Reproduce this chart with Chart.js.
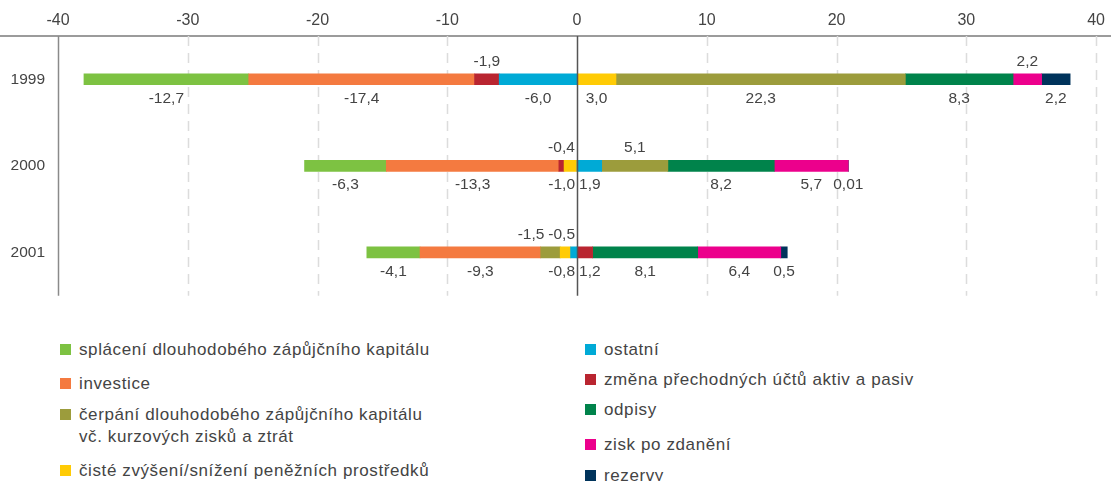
<!DOCTYPE html>
<html>
<head>
<meta charset="utf-8">
<script src="https://cdn.jsdelivr.net/npm/chart.js@4/dist/chart.umd.min.js"></script>
<style>
  body { margin: 0; background: #fff; width: 1111px; height: 481px; overflow: hidden; position: relative; font-family: "Liberation Sans", Arial, sans-serif; color: #444; }
  #wrap { position: absolute; left: 0; top: 0; width: 1111px; height: 318px; }
  .leg { position: absolute; font-size: 17px; letter-spacing: 0.6px; line-height: 22px; color: #444; white-space: nowrap; }
  .leg i { position: absolute; left: -19px; top: 5px; width: 11px; height: 11px; }
</style>
</head>
<body>
<div id="wrap"><canvas id="myChart"></canvas></div>
<div id="legend"></div>
<script>
// years on the category axis
const years = ['1999', '2000', '2001'];
const xTicks = [-40, -30, -20, -10, 0, 10, 20, 30, 40];

// values in bn (one entry per year)
const ostatni   = [-6.0, 1.9, -0.5];
const ciste     = [3.0, -1.0, -0.8];
const zmena     = [-1.9, -0.4, 1.2];
const cerpani   = [22.3, 5.1, -1.5];
const investice = [-17.4, -13.3, -9.3];
const splaceni  = [-12.7, -6.3, -4.1];
const odpisy    = [8.3, 8.2, 8.1];
const zisk      = [2.2, 5.7, 6.4];
const rezervy   = [2.2, 0.01, 0.5];

const COLORS = {
  splaceni: '#7dc242',
  investice: '#f47a40',
  cerpani: '#9c9c3c',
  ciste: '#ffcb05',
  ostatni: '#00aad6',
  zmena: '#b92530',
  odpisy: '#00834b',
  zisk: '#ec008c',
  rezervy: '#00335b'
};

const FONT = '"Liberation Sans", Arial, sans-serif';

// dataset order = stacking order from zero outwards
const data = {
  labels: years,
  datasets: [
    { key: 'ostatni', label: 'ostatní', data: ostatni, backgroundColor: COLORS.ostatni },
    { key: 'ciste', label: 'čisté zvýšení/snížení peněžních prostředků', data: ciste, backgroundColor: COLORS.ciste },
    { key: 'zmena', label: 'změna přechodných účtů aktiv a pasiv', data: zmena, backgroundColor: COLORS.zmena },
    { key: 'cerpani', label: 'čerpání dlouhodobého zápůjčního kapitálu\nvč. kurzových zisků a ztrát', data: cerpani, backgroundColor: COLORS.cerpani },
    { key: 'investice', label: 'investice', data: investice, backgroundColor: COLORS.investice },
    { key: 'splaceni', label: 'splácení dlouhodobého zápůjčního kapitálu', data: splaceni, backgroundColor: COLORS.splaceni },
    { key: 'odpisy', label: 'odpisy', data: odpisy, backgroundColor: COLORS.odpisy },
    { key: 'zisk', label: 'zisk po zdanění', data: zisk, backgroundColor: COLORS.zisk },
    { key: 'rezervy', label: 'rezervy', data: rezervy, backgroundColor: COLORS.rezervy }
  ]
};

// which value labels sit above the bar (rest go below)
const above = { zmena: [0, 1], zisk: [0], cerpani: [1, 2], ostatni: [2] };

function fmt(v) {
  let d = Math.abs(v) < 0.1 ? 2 : 1;
  return v.toFixed(d).replace('.', ',');
}

const gridLines = {
  id: 'gridLines',
  beforeDatasetsDraw(chart) {
    const ctx = chart.ctx, a = chart.chartArea, sx = chart.scales.x;
    ctx.save();
    // top rule across the whole width
    ctx.strokeStyle = '#7a7a7a';
    ctx.lineWidth = 1.5;
    ctx.beginPath();
    ctx.moveTo(0, a.top); ctx.lineTo(chart.width, a.top);
    ctx.stroke();
    xTicks.forEach(v => {
      if (v === 0) return;
      const x = Math.round(sx.getPixelForValue(v)) + 0.5;
      ctx.beginPath();
      if (v === -40) {
        ctx.setLineDash([]);
        ctx.strokeStyle = '#8a8a8a';
        ctx.lineWidth = 1.5;
      } else {
        ctx.setLineDash([10, 7]);
        ctx.strokeStyle = '#dcdcdc';
        ctx.lineWidth = 1.5;
      }
      ctx.moveTo(x, a.top); ctx.lineTo(x, a.bottom);
      ctx.stroke();
    });
    ctx.restore();
  },
  afterDatasetsDraw(chart) {
    const ctx = chart.ctx, a = chart.chartArea, sx = chart.scales.x;
    const zx = Math.round(sx.getPixelForValue(0)) + 0.5;
    ctx.save();
    ctx.strokeStyle = '#555';
    ctx.lineWidth = 1.5;
    ctx.beginPath();
    ctx.moveTo(zx, a.top); ctx.lineTo(zx, a.bottom);
    ctx.stroke();

    // value labels
    ctx.font = '15.5px ' + FONT;
    ctx.fillStyle = '#444';
    ctx.textAlign = 'center';
    ctx.textBaseline = 'middle';
    const zero = sx.getPixelForValue(0);
    years.forEach((yr, j) => {
      const groups = {};
      chart.data.datasets.forEach((ds, i) => {
        const v = ds.data[j];
        const bar = chart.getDatasetMeta(i).data[j];
        const up = (above[ds.key] || []).includes(j);
        const t = fmt(v);
        const w = ctx.measureText(t).width;
        const g = (up ? 'u' : 'd') + (v < 0 ? 'n' : 'p');
        (groups[g] = groups[g] || []).push({ t, w, cx: (bar.x + bar.base) / 2, y: bar.y + (up ? -18 : 19), neg: v < 0 });
      });
      Object.values(groups).forEach(list => {
        // push apart from zero outwards
        let edge = null;
        list.forEach(l => {
          if (l.neg) {
            let lim = edge === null ? zero - 2 : edge - 4;
            if (l.cx + l.w / 2 > lim) l.cx = lim - l.w / 2;
            edge = l.cx - l.w / 2;
          } else {
            let lim = edge === null ? zero + 2 : edge + 4;
            if (l.cx - l.w / 2 < lim) l.cx = lim + l.w / 2;
            edge = l.cx + l.w / 2;
          }
          ctx.fillText(l.t, l.cx, l.y);
        });
      });
    });
    ctx.restore();
  }
};

const config = {
  type: 'bar',
  data: data,
  options: {
    indexAxis: 'y',
    responsive: true,
    maintainAspectRatio: false,
    animation: false,
    layout: { padding: { top: 0, right: 11, bottom: 5, left: 0 } },
    datasets: { bar: { barThickness: 11 } },
    scales: {
      x: {
        position: 'top',
        stacked: true,
        min: -40, max: 40,
        afterBuildTicks: s => { s.ticks = xTicks.map(v => ({ value: v })); },
        afterFit: s => { s.height = 36; },
        grid: { display: false, drawTicks: false },
        border: { display: false },
        ticks: {
          padding: 6,
          color: '#444',
          font: { size: 16, family: FONT },
          callback: v => String(v)
        }
      },
      y: {
        stacked: true,
        afterFit: s => { s.width = 58; },
        grid: { display: false, drawTicks: false },
        border: { display: false },
        ticks: {
          padding: 13,
          color: '#444',
          font: { size: 15.5, family: FONT }
        }
      }
    },
    plugins: {
      legend: { display: false },
      tooltip: { enabled: false }
    }
  },
  plugins: [gridLines]
};

const myChart = new Chart(document.getElementById('myChart'), config);

// html legend in two columns, same order as the reference
const legendCols = [
  { x: 79, keys: ['splaceni', 'investice', 'cerpani', 'ciste'], ys: [339, 373, 404, 460] },
  { x: 604, keys: ['ostatni', 'zmena', 'odpisy', 'zisk', 'rezervy'], ys: [339, 369, 399, 434, 465] }
];
const legendEl = document.getElementById('legend');
legendCols.forEach(col => {
  col.keys.forEach((k, n) => {
    const ds = data.datasets.find(d => d.key === k);
    const div = document.createElement('div');
    div.className = 'leg';
    div.style.left = col.x + 'px';
    div.style.top = col.ys[n] + 'px';
    div.innerHTML = '<i style="background:' + ds.backgroundColor + '"></i>' + ds.label.replace('\n', '<br>');
    legendEl.appendChild(div);
  });
});
</script>
</body>
</html>
